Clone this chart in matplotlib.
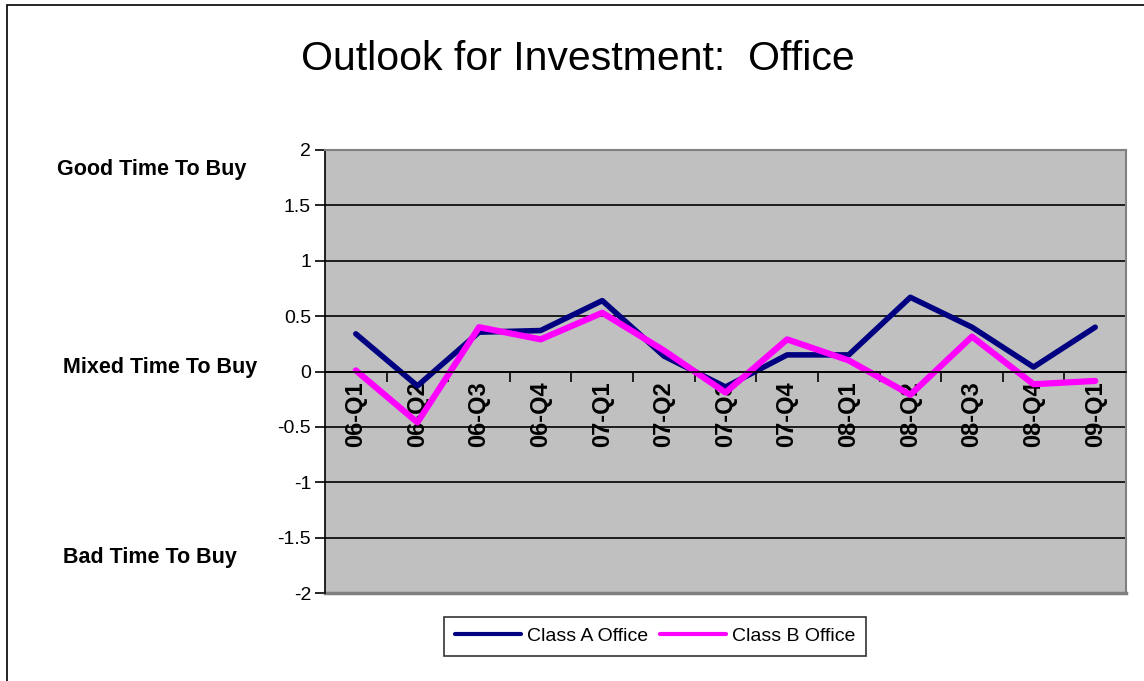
import matplotlib
matplotlib.use("Agg")
import matplotlib.pyplot as plt
from matplotlib.patches import Rectangle
import numpy as np

plt.rcParams['font.family'] = ['Liberation Sans', 'DejaVu Sans']

categories = ["06-Q1", "06-Q2", "06-Q3", "06-Q4", "07-Q1", "07-Q2", "07-Q3",
              "07-Q4", "08-Q1", "08-Q2", "08-Q3", "08-Q4", "09-Q1"]
class_a = [0.34, -0.13, 0.355, 0.37, 0.64, 0.14, -0.14, 0.15, 0.15, 0.67, 0.40, 0.04, 0.40]
class_b = [0.01, -0.46, 0.40, 0.29, 0.53, 0.19, -0.19, 0.29, 0.10, -0.21, 0.315, -0.115, -0.085]
side_labels = ["Good Time To Buy", "Mixed Time To Buy", "Bad Time To Buy"]
title = "Outlook for Investment:  Office"

W, H = 1144, 681
fig = plt.figure(figsize=(W / 100, H / 100), dpi=100)
fig.patch.set_facecolor("white")

# outer chart frame
fig.add_artist(Rectangle((7 / W, -0.05), 1.2, 1 - 5 / H + 0.05, transform=fig.transFigure,
                         fill=False, edgecolor="black", linewidth=1.2))

left, right, top, bottom = 325, 1126, 150, 593
ax = fig.add_axes([left / W, 1 - bottom / H, (right - left) / W, (bottom - top) / H])
ax.set_facecolor("#C0C0C0")

x = np.arange(len(categories))
ax.set_xlim(-0.5, len(categories) - 0.5)
ax.set_ylim(-2, 2)
ax.set_yticks(np.arange(-2, 2.01, 0.5))
ax.set_yticklabels(["-2", "-1.5", "-1", "-0.5", "0", "0.5", "1", "1.5", "2"], fontsize=14)
ax.yaxis.grid(True, color="black", linewidth=1.2)
ax.set_axisbelow(True)

for sp in ["top", "right"]:
    ax.spines[sp].set_color("#808080")
    ax.spines[sp].set_linewidth(1.5)
ax.spines["left"].set_color("black")
ax.spines["left"].set_linewidth(1.2)
ax.spines["bottom"].set_position(("data", 0))
ax.spines["bottom"].set_color("black")
ax.spines["bottom"].set_linewidth(1.2)
ax.tick_params(axis="y", direction="out", length=7, width=1.2, pad=3)

# category boundary ticks on zero line
ax.set_xticks(np.arange(0.5, len(categories) - 0.5, 1.0))
ax.set_xticklabels([])
ax.tick_params(axis="x", direction="out", length=7, width=1.2)
ax.set_xticks(x, minor=True)
ax.set_xticklabels(categories, minor=True, rotation=90, fontsize=17, fontweight="bold",
                   va="top", ha="center")
ax.tick_params(axis="x", which="minor", length=0, pad=7)

# bottom border of plot area
ax.axhline(-2, color="#808080", linewidth=2.5, clip_on=False)

ax.plot(x, class_a, color="#000080", linewidth=4.0, label="Class A Office", solid_capstyle="round")
ax.plot(x, class_b, color="#FF00FF", linewidth=4.5, label="Class B Office", solid_capstyle="round")

fig.text(578 / W, 1 - 59 / H, title, fontsize=29.5, ha="center", va="center")

side_pos = [(152, 170), (160, 367), (150, 558)]
for (px, py), txt in zip(side_pos, side_labels):
    fig.text(px / W, 1 - py / H, txt, fontsize=15.5, fontweight="bold", ha="center", va="center")

leg = ax.legend(loc="center", bbox_to_anchor=(655 / W, 1 - 636 / H), bbox_transform=fig.transFigure,
                ncol=2, frameon=True, fancybox=False, fontsize=14, handlelength=3.4,
                columnspacing=0.6, handletextpad=0.3, borderpad=0.55)
leg.get_frame().set_edgecolor("black")
leg.get_frame().set_linewidth(1.2)
for l in leg.get_lines():
    l.set_linewidth(3.0)

fig.savefig("out.png", dpi=100)
